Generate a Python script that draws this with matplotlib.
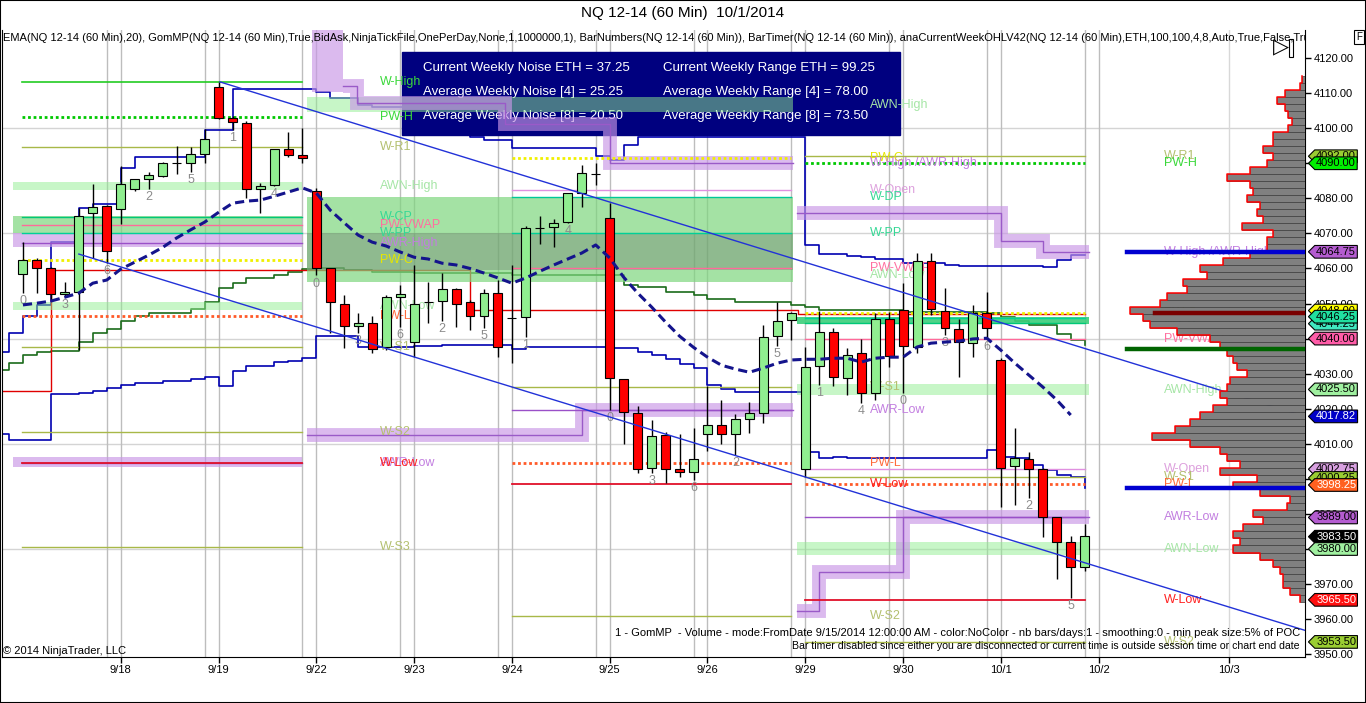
import numpy as np
import matplotlib
matplotlib.use("Agg")
import matplotlib.pyplot as plt
from matplotlib.path import Path
from matplotlib.patches import Rectangle

plt.rcParams["font.family"] = ["Liberation Sans", "DejaVu Sans"]

# ---------------- data ----------------
# NQ 12-14, 60 min bars, 7 per session, 9/17 .. 10/1
opens = [4058.4, 4062.4, 4060.0, 4052.7, 4053.3, 4075.8, 4077.8,
         4077.0, 4082.6, 4085.5, 4086.3, 4090.0, 4090.0, 4092.6,
         4111.7, 4102.9, 4101.5, 4082.6, 4083.8, 4094.0, 4092.3,
         4082.0, 4060.0, 4050.0, 4043.6, 4044.4, 4037.6, 4051.8,
         4039.0, 4050.4, 4050.7, 4054.0, 4050.4, 4046.4, 4053.0,
         4046.0, 4046.1, 4071.5, 4071.8, 4073.2, 4081.5, 4087.0,
         4074.4, 4028.4, 4018.7, 4003.0, 4012.5, 4002.7, 4001.9,
         4012.8, 4015.3, 4012.8, 4017.0, 4018.7, 4040.7, 4045.3,
         4002.8, 4032.2, 4041.8, 4028.7, 4035.9, 4024.4, 4045.6,
         4048.1, 4037.6, 4062.0, 4047.8, 4042.7, 4038.7, 4047.3,
         4033.9, 4003.6, 4005.6, 4002.7, 3989.0, 3982.0, 3974.8]
highs = [4067.5, 4063.0, 4060.5, 4056.0, 4077.2, 4084.0, 4078.0,
         4089.2, 4085.5, 4087.5, 4090.5, 4095.0, 4094.6, 4099.7,
         4113.2, 4103.5, 4102.0, 4084.3, 4094.2, 4099.0, 4100.0,
         4083.0, 4060.0, 4052.4, 4047.3, 4046.4, 4052.5, 4055.3,
         4061.0, 4056.0, 4058.7, 4054.5, 4051.0, 4054.0, 4056.7,
         4061.0, 4072.0, 4075.0, 4074.0, 4081.5, 4089.5, 4090.0,
         4078.6, 4028.4, 4020.7, 4016.8, 4013.3, 4012.8, 4014.5,
         4026.4, 4022.5, 4018.5, 4021.8, 4043.8, 4050.4, 4047.6,
         4037.6, 4048.0, 4043.0, 4037.3, 4040.0, 4047.3, 4047.6,
         4055.8, 4064.4, 4064.4, 4054.4, 4045.6, 4049.6, 4053.3,
         4034.5, 4014.5, 4007.6, 4003.0, 3989.0, 3983.6, 3987.0]
lows = [4053.0, 4053.0, 4051.0, 4052.0, 4036.7, 4063.0, 4061.5,
        4072.7, 4082.0, 4082.6, 4086.0, 4087.0, 4087.5, 4090.0,
        4102.6, 4099.5, 4080.0, 4075.8, 4083.5, 4091.7, 4090.0,
        4058.0, 4041.5, 4037.3, 4041.5, 4036.0, 4036.7, 4043.3,
        4034.7, 4044.4, 4045.0, 4043.3, 4042.4, 4043.0, 4034.7,
        4033.0, 4040.4, 4067.0, 4066.0, 4073.0, 4077.5, 4083.8,
        4019.6, 4010.0, 4001.6, 4001.6, 3998.8, 4000.5, 3999.6,
        4008.0, 4010.0, 4006.8, 4013.0, 4015.9, 4038.0, 4039.5,
        4000.5, 4026.7, 4026.5, 4023.9, 4021.6, 4022.5, 4031.9,
        4024.4, 4036.0, 4046.7, 4041.0, 4029.0, 4034.7, 4040.0,
        3992.0, 3992.5, 3994.5, 3983.4, 3971.4, 3966.0, 3973.7]
closes = [4062.4, 4060.0, 4052.7, 4053.3, 4074.9, 4077.5, 4065.0,
          4084.0, 4085.5, 4086.6, 4090.0, 4090.0, 4092.6, 4096.9,
          4102.9, 4101.8, 4082.6, 4083.5, 4094.0, 4092.3, 4091.5,
          4060.1, 4050.4, 4043.6, 4044.4, 4037.0, 4051.8, 4052.6,
          4050.0, 4050.4, 4054.0, 4050.0, 4046.4, 4053.0, 4037.6,
          4046.0, 4071.5, 4071.5, 4072.9, 4081.5, 4087.2, 4087.0,
          4028.7, 4019.0, 4002.7, 4012.2, 4002.7, 4001.9, 4005.6,
          4015.3, 4012.8, 4017.0, 4018.7, 4040.4, 4045.0, 4047.3,
          4031.9, 4041.8, 4029.0, 4035.3, 4024.4, 4045.6, 4035.0,
          4037.9, 4062.0, 4048.4, 4043.0, 4039.0, 4047.3, 4043.0,
          4003.0, 4006.0, 4002.7, 3989.0, 3982.0, 3974.8, 3983.6]

ema20 = [4049.6, 4050.1, 4050.7, 4051.8, 4053.0, 4055.8, 4056.7, 4059.8, 4061.8, 4063.8,
         4066.0, 4068.7, 4071.0, 4073.2, 4076.0, 4078.6, 4079.2, 4079.5, 4080.6, 4081.8,
         4083.0, 4081.5, 4076.6, 4073.0, 4069.5, 4067.5, 4066.4, 4064.7, 4063.2, 4062.7,
         4061.5, 4061.0, 4060.0, 4058.7, 4057.3, 4055.8, 4057.3, 4059.2, 4061.0, 4062.7,
         4064.4, 4066.7, 4063.0, 4057.5, 4053.0, 4049.0, 4044.7, 4040.7, 4037.5, 4034.7,
         4032.4, 4031.3, 4030.4, 4031.6, 4033.0, 4033.9, 4034.1, 4034.1, 4034.4, 4034.4,
         4033.3, 4034.4, 4034.7, 4034.7, 4037.6, 4038.7, 4039.0, 4039.3, 4039.9, 4040.1,
         4036.7, 4033.0, 4029.6, 4026.2, 4022.5, 4018.2]

# trend channel (bar, price) end points
chan_up_x, chan_up_y = [14.1, 91.77], [4113.2, 4017.82]
chan_dn_x, chan_dn_y = [4.0, 91.77], [4064.1, 3956.8]

# step lines (bar where value starts, value)
hi_step_x = [-1.5, -1, 0, 1, 2, 4, 5, 7, 8, 13, 15, 21, 22, 24, 25, 28, 30, 32, 33, 35,
             41, 42, 43, 44, 56, 57, 59, 60, 61, 63, 66, 67, 73, 74, 75, 76]
hi_step_y = [4036.1, 4041.6, 4046.4, 4049.5, 4067.5, 4077.2, 4078.4, 4088.6, 4091.8, 4099.5,
             4111.2, 4110.3, 4108.6, 4106.6, 4106.0, 4102.3, 4100.0, 4097.5, 4096.6, 4094.3,
             4092.0, 4090.9, 4095.2, 4097.5, 4066.7, 4064.1, 4063.5, 4063.2, 4062.7, 4061.5,
             4061.0, 4060.7, 4060.4, 4062.4, 4063.8, 4063.8]
lo_step_x = [-1.5, -1, 2, 4, 5, 6, 7, 8, 10, 12, 13, 14, 15, 16, 18, 19, 20, 21, 24, 28,
             30, 35, 36, 42, 44, 45, 46, 47, 48, 49, 50, 51, 56, 57, 58, 59, 69, 70, 71, 72,
             73, 74, 75, 76]
lo_step_y = [4012.8, 4011.0, 4024.2, 4024.4, 4025.0, 4025.9, 4026.7, 4027.3, 4027.9, 4028.4,
             4029.0, 4026.4, 4030.7, 4032.2, 4033.3, 4033.6, 4034.4, 4040.7, 4037.6, 4037.9,
             4038.1, 4037.0, 4037.6, 4037.3, 4036.1, 4035.3, 4034.1, 4032.7, 4031.6, 4026.7,
             4025.6, 4024.7, 4007.6, 4005.9, 4006.2, 4006.0, 4008.2, 4006.2, 4005.9, 4003.9,
             4002.5, 4001.1, 4000.5, 3997.4]
vwap_step_x = [-1.5, -1, 0, 1, 2, 4, 5, 6, 7, 8, 9, 12, 13, 14, 15, 16, 18, 19, 20, 21,
               23, 25, 28, 35, 43, 44, 46, 48, 49, 51, 55, 56, 57, 63, 69, 70, 71, 72, 74, 75, 76]
vwap_step_y = [4031.0, 4033.0, 4035.3, 4036.1, 4036.4, 4039.0, 4041.6, 4042.7, 4045.0, 4046.4,
               4047.3, 4048.4, 4050.4, 4054.4, 4055.8, 4057.3, 4058.1, 4059.0, 4059.8, 4060.1,
               4059.5, 4059.0, 4058.7, 4058.1, 4055.3, 4054.7, 4053.3, 4052.4, 4051.3, 4050.4,
               4049.6, 4049.0, 4048.1, 4047.6, 4047.3, 4046.1, 4045.0, 4043.8, 4041.3, 4039.6, 4038.1]
red_step_x = [-1.5, 2, 32, 55.5, 76]
red_step_y = [4025.0, 4059.5, 4048.1, 4047.0, 4047.0]

# trailing AWR staircases (bar, price)
stair_x = [[22.9, 23.9, 34.5, 42.0, 55.1],
           [20.3, 40.0, 55.1],
           [55.4, 70.0, 73.0, 76.3],
           [55.4, 57.0, 63.0, 76.3]]
stair_y = [[4112.0, 4107.2, 4101.2, 4090.0, 4090.0],
           [4012.5, 4019.6, 4019.6],
           [4075.8, 4067.7, 4064.8, 4064.8],
           [3962.3, 3973.4, 3989.1, 3989.1]]

# zones
band_x0 = [-0.7, -0.7, -0.7, -0.7, -0.7, 20.3, 20.3, 20.3, 55.4, 55.4, 55.4, 20.7]
band_x1 = [20.0, 20.0, 20.0, 20.0, 20.0, 55.1, 55.1, 55.1, 76.3, 76.3, 76.3, 22.9]
band_lo = [4082.3, 4070.0, 4066.0, 4048.1, 4003.3, 4104.6, 4056.1, 4059.5, 4044.25, 4024.0,
           3978.2, 4110.3]
band_hi = [4084.6, 4074.9, 4070.0, 4050.4, 4006.2, 4108.9, 4080.4, 4070.0, 4046.25, 4027.0,
           3981.9, 4130.0]
band_kind = ["awn", "cpr", "awr", "awn", "awr", "awn", "cpr", "gray", "cp3", "awn", "awn", "awr"]

# weekly levels per segment
seg_line_x0 = [-0.05, 35, 56]
seg_line_x1 = [20, 55, 76]
seg_label_x = [25.55, 60.6, 81.7]
seg1_names = ["W-High", "PW-H", "W-R1", "AWN-High", "W-CP", "PW-VWAP", "W-PP", "AWR-High",
              "PW-C", "AWN-Low", "PW-L", "W-S1", "W-S2", "AWR-Low", "W-Low", "W-S3"]
seg1_prices = [4113.2, 4103.2, 4094.6, 4083.4, 4074.6, 4072.4, 4070.0, 4067.4,
               4062.3, 4049.3, 4046.4, 4037.6, 4013.4, 4004.6, 4004.6, 3980.5]
seg2_names = ["AWN-High", "PW-C", "W-High /AWR-High", "W-Open", "W-DP", "W-PP", "PW-VWAP",
              "AWN-Low", "W-S1", "AWR-Low", "PW-L", "W-Low", "W-S2"]
seg2_prices = [4106.6, 4091.6, 4090.0, 4082.4, 4080.3, 4070.0, 4060.1,
               4058.1, 4026.1, 4019.6, 4004.5, 3998.5, 3960.8]
seg3_names = ["W-R1", "PW-H", "W-High /AWR-High", "PW-C", "W-PP", "W-CP", "PW-VWAP", "AWN-High",
              "W-Open", "W-S1", "PW-L", "AWR-Low", "AWN-Low", "W-Low", "W-S2"]
seg3_prices = [4092.0, 4090.0, 4064.6, 4047.3, 4046.0, 4044.5, 4040.0, 4025.4,
               4002.9, 4000.6, 3998.4, 3989.1, 3980.1, 3965.5, 3953.6]
seg_names = [seg1_names, seg2_names, seg3_names]
seg_prices = [seg1_prices, seg2_prices, seg3_prices]

# volume profile (GomMP), 2 point bins
vp_levels = np.arange(3966, 4115, 2)
vp_volume = [5, 15, 22, 22, 25, 32, 45, 72, 65, 72,
             62, 42, 52, 18, 15, 45, 72, 48, 85, 65,
             78, 85, 115, 153, 130, 115, 105, 92, 78, 85,
             78, 75, 58, 68, 72, 78, 85, 95, 128, 155,
             162, 175, 145, 138, 118, 122, 98, 105, 82, 55,
             38, 38, 32, 63, 42, 48, 45, 58, 52, 55,
             78, 55, 38, 32, 42, 32, 32, 17, 13, 17,
             20, 28, 20, 5, 3]
poc_prices = [4064.75, 4047.25, 4037.0, 3997.4]
poc_start = [79.0, 81.0, 79.0, 79.0]
poc_colors = ["#0000d0", "#7a0000", "#006400", "#0000d0"]

# price markers on the axis
tag_prices = [4092.00, 4090.00, 4064.75, 4048.00, 4044.25, 4046.25, 4040.00, 4025.50, 4017.82,
              4002.75, 4000.25, 3998.25, 3989.00, 3983.50, 3980.00, 3965.50, 3953.50]
tag_fill = ["#9acd32", "#00ee00", "#b45cd0", "#ffff00", "#40e8c0", "#20e0a0", "#ff5ca8",
            "#a0f0a0", "#0000c8", "#d8a0e0", "#9acd32", "#ff6020", "#b45cd0", "#000000",
            "#a0f0a0", "#ff1010", "#9acd32"]
tag_text = ["black", "black", "black", "black", "black", "black", "black", "black", "white",
            "black", "black", "white", "black", "white", "black", "white", "black"]

day_ticks = [7, 14, 21, 28, 35, 42, 49, 56, 63, 70, 77, 86.3]
day_labels = ["9/18", "9/19", "9/22", "9/23", "9/24", "9/25", "9/26", "9/29", "9/30",
              "10/1", "10/2", "10/3"]

info_left = ["Current Weekly Noise ETH = 37.25", "Average Weekly Noise [4] = 25.25",
             "Average Weekly Noise [8] = 20.50"]
info_right = ["Current Weekly Range ETH = 99.25", "Average Weekly Range [4] = 78.00",
              "Average Weekly Range [8] = 73.50"]

# ---------------- styles ----------------
line_style = {
    "W-High": ("#22cc22", "-", 1.2), "PW-H": ("#00c800", (0, (1, 1)), 2.0),
    "W-R1": ("#a8b848", "-", 1.0), "W-CP": ("#00c878", "-", 1.0),
    "PW-VWAP": ("#ff6a9a", "-", 1.0), "W-PP": ("#00d098", "-", 1.0),
    "AWR-High": ("#9a50c8", "-", 1.0), "PW-C": ("#f0f000", (0, (1, 1)), 2.0),
    "PW-L": ("#ff5a28", (0, (1, 1)), 2.0), "W-S1": ("#a8b848", "-", 1.0),
    "W-S2": ("#a8b848", "-", 1.0), "W-S3": ("#a8b848", "-", 1.0),
    "AWR-Low": ("#9a50c8", "-", 1.0), "W-Low": ("#e0102a", "-", 1.3),
    "W-Open": ("#e090e0", "-", 1.0), "W-DP": ("#00c898", "-", 1.0),
}
label_color = {
    "W-High": "#3ad83a", "PW-H": "#3ad83a", "W-R1": "#b4c070", "AWN-High": "#a6e6a6",
    "W-CP": "#35d895", "PW-VWAP": "#ff70a0", "W-PP": "#35d895", "AWR-High": "#c27ee0",
    "PW-C": "#e6e600", "AWN-Low": "#a6e6a6", "PW-L": "#ff6a3a", "W-S1": "#b4c070",
    "W-S2": "#b4c070", "W-S3": "#b4c070", "AWR-Low": "#c27ee0", "W-Low": "#ff2020",
    "W-Open": "#dda0dd", "W-DP": "#35d895", "W-High /AWR-High": "#c27ee0",
}
band_style = {"awn": ("#90ee90", 0.5), "cpr": ("#7ed67e", 0.7), "gray": ("#606060", 0.3),
              "awr": ("#c896e6", 0.65), "cp3": ("#3ccf7a", 0.9)}


def tag_shape(x0, y0, width, height, mutation_size):
    pad = 0.12 * mutation_size
    x0, y0 = x0 - pad, y0 - pad
    w, h = width + 2 * pad, height + 2 * pad
    tip = 0.5 * h
    verts = [(x0 - tip, y0 + h / 2), (x0, y0), (x0 + w, y0), (x0 + w, y0 + h),
             (x0, y0 + h), (x0 - tip, y0 + h / 2)]
    codes = [Path.MOVETO] + [Path.LINETO] * 4 + [Path.CLOSEPOLY]
    return Path(verts, codes)


# ---------------- figure ----------------
fig = plt.figure(figsize=(13.66, 7.03), dpi=100)
ax = fig.add_axes([2 / 1366, 46 / 703, 1303 / 1366, 627 / 703])
ax.set_xlim(-1.5, 91.77)
ax.set_ylim(3949.2, 4128.0)

# grid
for p in [3980, 4010, 4040, 4070, 4100]:
    ax.axhline(p, color="#d4d4d4", lw=1, zorder=0.5)
for t in day_ticks[:-1]:
    ax.axvline(t, color="#bdbdbd", lw=1, zorder=0.5)
    ax.axvline(t - 1, color="#bdbdbd", lw=1, zorder=0.5)
ax.axvline(day_ticks[-1], color="#d8d8d8", lw=1, zorder=0.5)

# step lines
ax.plot(hi_step_x, hi_step_y, drawstyle="steps-post", color="#0000b0", lw=1.2, zorder=2)
ax.plot(lo_step_x, lo_step_y, drawstyle="steps-post", color="#0000b0", lw=1.2, zorder=2)
ax.plot(vwap_step_x, vwap_step_y, drawstyle="steps-post", color="#1a6b1a", lw=1.2, zorder=2)
ax.plot(red_step_x, red_step_y, drawstyle="steps-post", color="#e00000", lw=1.0, zorder=2)

# info box
ax.add_patch(Rectangle((0.307, 0.8325), 0.3822, 0.1324, transform=ax.transAxes,
                       color="#00007f", zorder=2.2))
for k in range(3):
    yy = 0.939 - 0.038 * k
    ax.text(0.3231, yy, info_left[k], transform=ax.transAxes, color="white",
            fontsize=9.5, va="center", zorder=2.3)
    ax.text(0.5073, yy, info_right[k], transform=ax.transAxes, color="white",
            fontsize=9.5, va="center", zorder=2.3)

# zones
for x0, x1, lo, hi, kind in zip(band_x0, band_x1, band_lo, band_hi, band_kind):
    col, a = band_style[kind]
    ax.fill_between([x0, x1], lo, hi, color=col, alpha=a, lw=0, zorder=2.5)
for sx, sy in zip(stair_x, stair_y):
    ax.plot(sx, sy, drawstyle="steps-post", color="#c896e6", alpha=0.65, lw=10,
            solid_joinstyle="miter", solid_capstyle="butt", zorder=2.5)
    ax.plot(sx, sy, drawstyle="steps-post", color="#9a5ac8", lw=1, zorder=2.6)

# weekly levels + labels
for s in range(3):
    for name, p in zip(seg_names[s], seg_prices[s]):
        if name in line_style:
            col, ls, lw = line_style[name]
            ax.plot([seg_line_x0[s], seg_line_x1[s]], [p, p], color=col, ls=ls, lw=lw, zorder=2.7)
        ax.text(seg_label_x[s], p, name, color=label_color[name], fontsize=9,
                va="center", ha="left", zorder=3)

# candles
n = len(opens)
xb = np.arange(n)
o, h, l, c = (np.array(v) for v in (opens, highs, lows, closes))
ax.vlines(xb, l, h, color="black", lw=1, zorder=5)
ax.bar(xb, np.abs(c - o), bottom=np.minimum(o, c), width=0.64,
       color=np.where(c >= o, "#90ee90", "#ff0000"), edgecolor="black", lw=0.8, zorder=5.5)
for i in range(0, n, 3):
    ax.annotate(str(i % 7), (i, lows[i]), xytext=(0, -1.5), textcoords="offset points",
                ha="center", va="top", color="#8c8c8c", fontsize=9, zorder=6)

# EMA and channel
ax.plot(np.arange(len(ema20)), ema20, ls=(0, (3, 1.6)), color="#14148c", lw=2.2, zorder=6)
ax.plot(chan_up_x, chan_up_y, color="#2232d8", lw=1, zorder=6)
ax.plot(chan_dn_x, chan_dn_y, color="#2232d8", lw=1, zorder=6)

# indicator legend line
ax.text(0.001, 0.987, "EMA(NQ 12-14 (60 Min),20), GomMP(NQ 12-14 (60 Min),True,BidAsk,"
        "NinjaTickFile,OnePerDay,None,1,1000000,1), BarNumbers(NQ 12-14 (60 Min)), "
        "BarTimer(NQ 12-14 (60 Min)), anaCurrentWeekOHLV42(NQ 12-14 (60 Min),ETH,100,100,"
        "4,8,Auto,True,False,Tru", transform=ax.transAxes, fontsize=8.0, va="center",
        ha="left", clip_on=True, zorder=7)

# axes cosmetics
ax.yaxis.tick_right()
ax.set_yticks(np.arange(3950, 4121, 10))
ax.yaxis.set_major_formatter(matplotlib.ticker.FormatStrFormatter("%.2f"))
ax.set_xticks(day_ticks, day_labels)
ax.tick_params(axis="both", labelsize=8, length=4, width=1, pad=2, colors="black")
ax.spines["top"].set_visible(False)
for sp in ("left", "bottom", "right"):
    ax.spines[sp].set_color("black")

# volume profile on a twin axis
ax2 = ax.twiny()
ax2.barh(vp_levels, vp_volume, height=2, color="#808080", edgecolor="#3c3c3c",
         linewidth=0.5, zorder=1)
ov = np.repeat(vp_volume, 2)
op = np.ravel(np.column_stack([vp_levels - 1, vp_levels + 1]))
ax2.plot(ov, op, color="red", lw=1.1, zorder=2)
for p, x0, col in zip(poc_prices, poc_start, poc_colors):
    ax2.plot([x0, 91.77], [p, p], color=col, lw=3.2, transform=ax.transData, zorder=3)
ax2.set_xlim(1303, 0)
ax2.set_ylim(3949.2, 4128.0)
ax2.xaxis.set_visible(False)
for sp in ax2.spines.values():
    sp.set_visible(False)

for p, fc, tc in zip(tag_prices, tag_fill, tag_text):
    ax2.annotate(f"{p:.2f}", xy=(1.0, p), xycoords=("axes fraction", "data"),
                 xytext=(8.0, 0), textcoords="offset points", fontsize=8, color=tc,
                 va="center", ha="left", annotation_clip=False, zorder=10,
                 bbox=dict(boxstyle=tag_shape, fc=fc, ec="black", lw=0.8))

# figure texts
fig.text(0.5, 1 - 13 / 703, "NQ 12-14 (60 Min)  10/1/2014", ha="center", va="center", fontsize=11)
fig.text(3 / 1366, 1 - 651 / 703, "\u00a9 2014 NinjaTrader, LLC", fontsize=8, va="center")
fig.text(1300 / 1366, 1 - 633 / 703,
         "1 - GomMP  - Volume - mode:FromDate 9/15/2014 12:00:00 AM - color:NoColor - "
         "nb bars/days:1 - smoothing:0 - min peak size:5% of POC",
         ha="right", va="center", fontsize=8.0)
fig.text(1300 / 1366, 1 - 646 / 703,
         "Bar timer disabled since either you are disconnected or current time is outside "
         "session time or chart end date", ha="right", va="center", fontsize=7.6)

# top right widgets
fig.text(1281 / 1366, 1 - 47 / 703, "\u25b7", ha="center", va="center", fontsize=15,
         family="DejaVu Sans")
fig.add_artist(Rectangle((1289 / 1366, 1 - 57 / 703), 4 / 1366, 18 / 703,
                         transform=fig.transFigure, fill=False, lw=0.8, ec="black"))
fig.text(1359 / 1366, 1 - 37 / 703, "F", ha="center", va="center", fontsize=7,
         bbox=dict(boxstyle="square,pad=0.2", fc="white", ec="black", lw=0.8))
fig.add_artist(Rectangle((0, 0), 1, 1, transform=fig.transFigure, fill=False, lw=1.5,
                         ec="black"))

fig.savefig("out.png", dpi=100)
